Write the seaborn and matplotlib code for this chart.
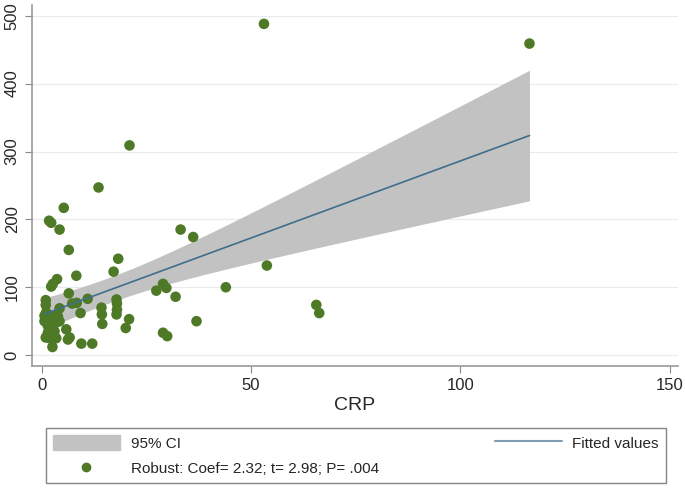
import numpy as np
import pandas as pd
import matplotlib
matplotlib.use('Agg')
import matplotlib.pyplot as plt
import seaborn as sns

sns.set_style('white')
plt.rcParams['font.family'] = ['Liberation Sans', 'DejaVu Sans']

# CRP vs outcome
crp = [53.1, 116.5, 21.0, 13.6, 5.3, 1.8, 2.3, 4.3, 33.2, 36.2,
       6.5, 18.3, 17.2, 8.3, 3.7, 2.7, 2.3, 53.8, 44.0, 6.5,
       1.0, 1.0, 4.3, 7.3, 8.4, 11.0, 9.3, 14.3, 14.4, 14.5,
       17.9, 18.0, 18.0, 17.9, 20.9, 20.1, 27.4, 29.0, 29.8, 32.0,
       29.0, 30.0, 37.0, 65.6, 66.3, 1.1, 1.9, 2.7, 0.7, 1.5,
       2.3, 3.5, 4.3, 3.1, 1.5, 1.0, 1.9, 3.5, 5.9, 6.3,
       6.7, 2.6, 9.5, 12.1, 0.7, 3.1, 3.9]
outcome = [488, 459, 309, 247, 217, 198, 195, 185, 185, 174,
           155, 142, 123, 117, 112, 105, 101, 132, 100, 91,
           81, 74, 69, 76, 77, 83, 62, 70, 60, 46,
           82, 76, 67, 60, 53, 40, 95, 105, 99, 86,
           33, 28, 50, 74, 62, 63, 58, 53, 50, 43,
           40, 48, 50, 35, 33, 26, 25, 25, 38, 23,
           26, 12, 17, 17, 58, 58, 57]

legend_labels = ['95% CI', 'Robust: Coef= 2.32; t= 2.98; P= .004', 'Fitted values']

df = pd.DataFrame({'CRP': crp, 'y': outcome})

# linear fit and 95% CI of the mean
x = df['CRP'].values
y = df['y'].values
n = len(x)
b, a = np.polyfit(x, y, 1)
xs = np.linspace(x.min(), x.max(), 200)
yhat = a + b * xs
resid = y - (a + b * x)
s = np.sqrt((resid ** 2).sum() / (n - 2))
se = s * np.sqrt(1 / n + (xs - x.mean()) ** 2 / ((x - x.mean()) ** 2).sum())
tcrit = 1.993
fit = pd.DataFrame({'CRP': xs, 'fit': yhat, 'lo': yhat - tcrit * se, 'hi': yhat + tcrit * se})

fig = plt.figure(figsize=(6.85, 4.88), dpi=100)
ax = fig.add_axes([0.046, 0.25, 0.944, 0.74])

ax.fill_between(fit['CRP'], fit['lo'], fit['hi'], color='#c2c2c2', lw=0, zorder=1)
sns.lineplot(data=fit, x='CRP', y='fit', color='#3f6e8c', lw=1.2, ax=ax, zorder=3)
sns.scatterplot(data=df, x='CRP', y='y', color='#4e7a27', s=58, edgecolor='none', ax=ax, zorder=2)

ax.set_xlim(-2.4, 152)
ax.set_ylim(-16, 516)
ax.set_xticks([0, 50, 100, 150])
ax.set_yticks([0, 100, 200, 300, 400, 500])
ax.yaxis.grid(True, color='#e6ecf0', lw=0.8)
ax.set_axisbelow(True)
ax.set_xlabel('CRP', fontsize=14, labelpad=3)
ax.set_ylabel('')
for lab in ax.get_yticklabels():
    lab.set_rotation(90)
    lab.set_va('center')
ax.tick_params(axis='both', labelsize=12, length=5, color='#888888', direction='out',
               bottom=True, left=True)
for sp in ['top', 'right']:
    ax.spines[sp].set_visible(False)
for sp in ['left', 'bottom']:
    ax.spines[sp].set_color('#999999')
    ax.spines[sp].set_linewidth(1.2)

h_ci = plt.Rectangle((0, 0), 1, 1, color='#c2c2c2')
h_dot = plt.Line2D([], [], marker='o', ls='none', color='#4e7a27', markersize=6)
h_fit = plt.Line2D([], [], color='#7f9db3', lw=1.5)
leg = fig.legend([h_ci, h_dot, h_fit], legend_labels, ncol=2, mode='expand',
                 bbox_to_anchor=(0.067, 0.006, 0.905, 0.121), loc='center',
                 fontsize=11, frameon=True, fancybox=False, edgecolor='#666666',
                 handlelength=4.4, handleheight=1.2, handletextpad=0.7,
                 borderaxespad=0, borderpad=0.45, labelspacing=0.65)
leg.get_frame().set_linewidth(1.0)

fig.savefig('out.png', dpi=100)
